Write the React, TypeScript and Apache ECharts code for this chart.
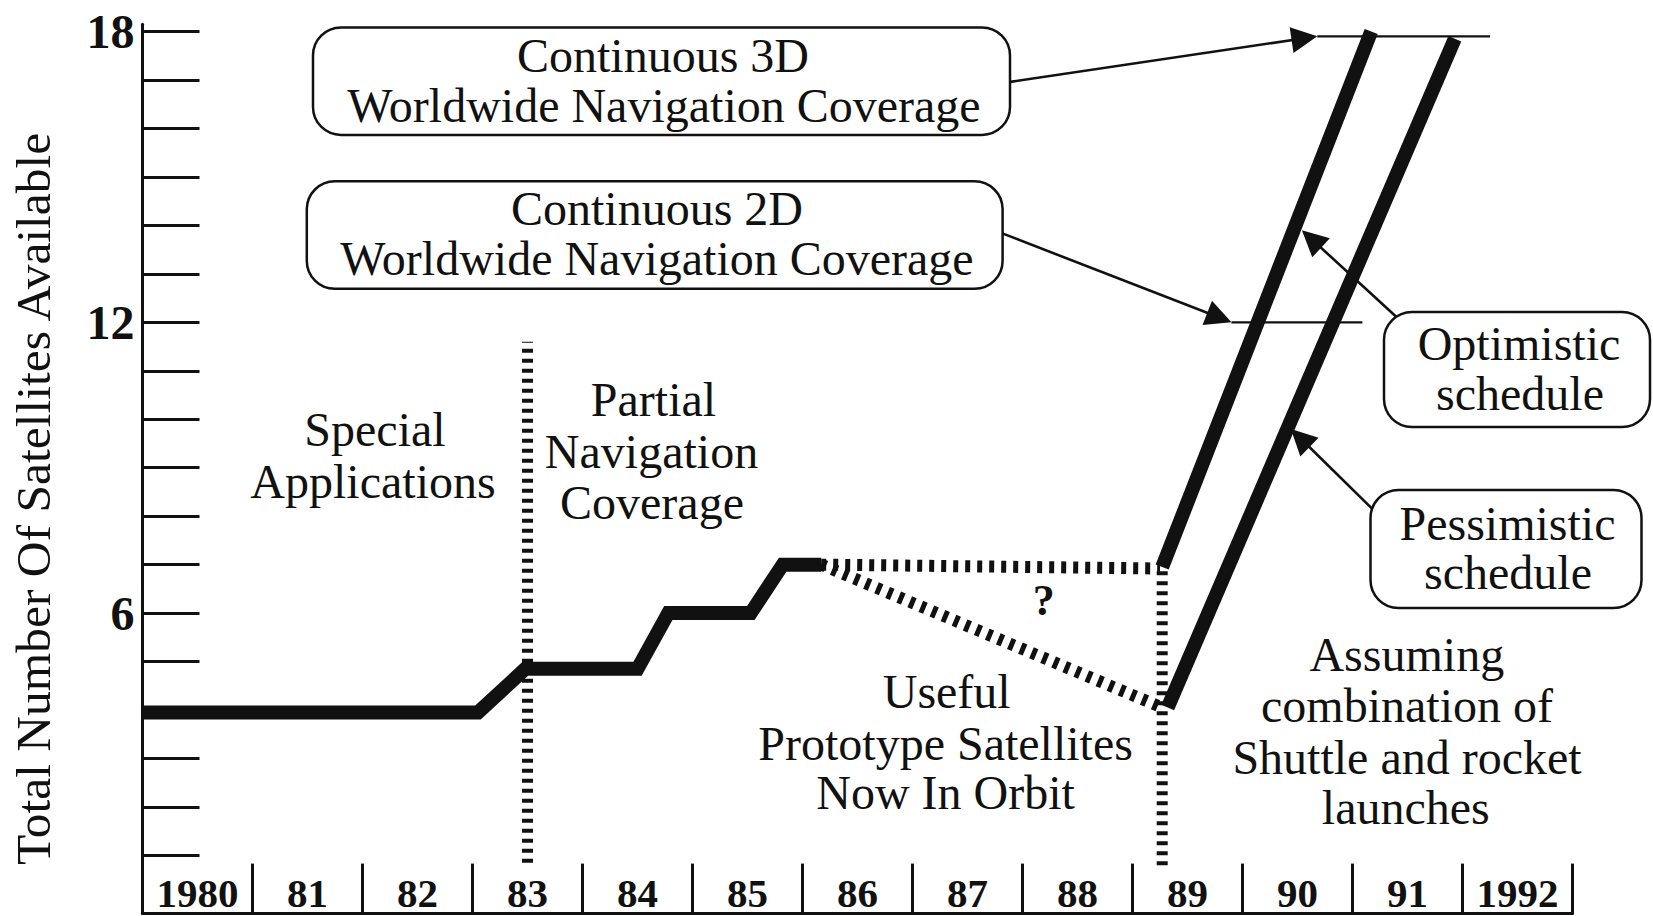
import React, { useEffect, useRef } from 'react';
import * as echarts from 'echarts';

// ---------- data ----------
const yearLabels = ['1980', '81', '82', '83', '84', '85', '86', '87', '88', '89', '90', '91', '1992'];
const yTickValues = [1, 2, 3, 4, 5, 6, 7, 8, 9, 10, 11, 12, 13, 14, 15, 16, 17, 18];
const yLabelValues = [6, 12, 18];

// satellites actually in orbit (stepped history)
const orbitYears = [1980, 1983.05, 1983.48, 1984.5, 1984.78, 1985.53, 1985.82, 1986.17];
const orbitCounts = [3.95, 3.95, 4.85, 4.85, 6, 6, 7, 7];

// uncertain period (hatched)
const upperUncertainYears = [1986.17, 1989.25];
const upperUncertainCounts = [7, 6.92];
const lowerUncertainYears = [1986.17, 1989.25];
const lowerUncertainCounts = [7, 4.07];

// launch schedules
const optimisticYears = [1989.27, 1991.17];
const optimisticCounts = [6.95, 18];
const pessimisticYears = [1989.32, 1991.93];
const pessimisticCounts = [4.05, 17.85];

// phase boundaries (dotted verticals)
const boundaryYears = [1983.5, 1989.27];
const boundaryFrom = [0.85, 0.8];
const boundaryTo = [11.6, 6.95];

// coverage thresholds
const coverage3DYears = [1990.68, 1992.25];
const coverage3DLevel = 17.9;
const coverage2DYears = [1989.9, 1991.09];
const coverage2DLevel = 12;

// annotation arrows: [startYear, startCount, tipYear, tipCount]
const arrowStartYears = [1987.89, 1987.81, 1991.4, 1991.18];
const arrowStartCounts = [16.96, 13.84, 12.11, 8.15];
const arrowTipYears = [1990.68, 1989.9, 1990.54, 1990.44];
const arrowTipCounts = [17.9, 12, 13.9, 9.8];

// ---------- layout ----------
const W = 1653;
const H = 916;
const G_LEFT = 142.5;
const G_RIGHT = 80.5;
const G_TOP = 24.2;
const G_BOTTOM = 2.4;
const X_MIN = 1980;
const X_MAX = 1993;
const Y_MIN = -0.2;
const Y_MAX = 18.15;
const PX_PER_YEAR = (W - G_LEFT - G_RIGHT) / (X_MAX - X_MIN);
const PX_PER_UNIT = (H - G_TOP - G_BOTTOM) / (Y_MAX - Y_MIN);
const ARROW_LEN = 26;

const FONT = '"Liberation Serif", "Times New Roman", Times, serif';
const INK = '#111';

function pairs(xs: number[], ys: number[]) {
  return xs.map((x, i) => [x, ys[i]]);
}

function arrowData() {
  return arrowStartYears.map((sx, i) => {
    const sy = arrowStartCounts[i];
    const tx = arrowTipYears[i];
    const ty = arrowTipCounts[i];
    const dxp = (tx - sx) * PX_PER_YEAR;
    const dyp = (ty - sy) * PX_PER_UNIT;
    const len = Math.sqrt(dxp * dxp + dyp * dyp);
    const back = ARROW_LEN / 2 / len;
    return {
      coords: [
        [sx, sy],
        [tx - (tx - sx) * back, ty - (ty - sy) * back],
      ],
    };
  });
}

function txt(text: string, x: number, y: number, size = 48, weight = 'normal') {
  return {
    type: 'text',
    x,
    y,
    z: 100,
    silent: true,
    style: {
      text,
      font: `${weight} ${size}px ${FONT}`,
      fill: INK,
      align: 'center',
      verticalAlign: 'middle',
      textAlign: 'center',
      textVerticalAlign: 'middle',
    },
  };
}

function box(x: number, y: number, w: number, h: number) {
  return {
    type: 'rect',
    z: 90,
    silent: true,
    shape: { x, y, width: w, height: h, r: 28 },
    style: { fill: '#fff', stroke: INK, lineWidth: 2.5 },
  };
}

function lineSeries(xs: number[], ys: number[], width: number, type: any = 'solid', z = 3) {
  return {
    type: 'line',
    xAxisIndex: 1,
    yAxisIndex: 0,
    data: pairs(xs, ys),
    showSymbol: false,
    symbol: 'none',
    silent: true,
    clip: false,
    z,
    lineStyle: { color: INK, width, type, join: 'miter', cap: 'butt' },
  };
}

function buildOption() {
  const series: any[] = [];
  boundaryYears.forEach((bx, i) => {
    series.push(lineSeries([bx, bx], [boundaryFrom[i], boundaryTo[i]], 11, [4, 6], 2));
  });
  series.push(lineSeries(upperUncertainYears, upperUncertainCounts, 12, [5, 7], 3));
  series.push(lineSeries(lowerUncertainYears, lowerUncertainCounts, 12, [5, 7], 3));
  series.push(lineSeries(orbitYears, orbitCounts, 14, 'solid', 4));
  series.push(lineSeries(optimisticYears, optimisticCounts, 14, 'solid', 4));
  series.push(lineSeries(pessimisticYears, pessimisticCounts, 14, 'solid', 4));
  series.push(lineSeries(coverage3DYears, [coverage3DLevel, coverage3DLevel], 2.2, 'solid', 3));
  series.push(lineSeries(coverage2DYears, [coverage2DLevel, coverage2DLevel], 2.2, 'solid', 3));
  series.push({
    type: 'lines',
    coordinateSystem: 'cartesian2d',
    xAxisIndex: 1,
    yAxisIndex: 0,
    silent: true,
    z: 5,
    symbol: ['none', 'triangle'],
    symbolSize: [15, ARROW_LEN],
    lineStyle: { color: INK, width: 2.6, opacity: 1, curveness: 0 },
    itemStyle: { color: INK },
    data: arrowData(),
  });

  return {
    animation: false,
    backgroundColor: '#fff',
    grid: {
      left: G_LEFT,
      right: G_RIGHT,
      top: G_TOP,
      bottom: G_BOTTOM,
      containLabel: false,
      outerBoundsMode: 'none',
    },
    xAxis: [
      {
        type: 'category',
        data: yearLabels,
        boundaryGap: true,
        position: 'bottom',
        axisLine: { show: true, onZero: false, lineStyle: { color: INK, width: 3 } },
        axisTick: {
          show: true,
          inside: true,
          length: 50,
          interval: 0,
          alignWithLabel: false,
          lineStyle: { color: INK, width: 3 },
        },
        axisLabel: {
          show: true,
          inside: true,
          interval: 0,
          margin: 0,
          fontSize: 41,
          fontWeight: 'bold',
          fontFamily: FONT,
          color: INK,
        },
        splitLine: { show: false },
      },
      {
        type: 'value',
        min: X_MIN,
        max: X_MAX,
        show: false,
        splitLine: { show: false },
      },
    ],
    yAxis: {
      type: 'value',
      min: Y_MIN,
      max: Y_MAX,
      splitLine: { show: false },
      axisLine: { show: true, onZero: false, lineStyle: { color: INK, width: 3 } },
      axisTick: {
        show: true,
        inside: true,
        length: 57,
        customValues: yTickValues,
        lineStyle: { color: INK, width: 3 },
      },
      axisLabel: {
        show: true,
        customValues: yLabelValues,
        margin: 8,
        fontSize: 48,
        fontWeight: 'bold',
        fontFamily: FONT,
        color: INK,
      },
      name: 'Total Number Of Satellites Available',
      nameLocation: 'middle',
      nameRotate: 90,
      nameGap: 84,
      nameTextStyle: { fontSize: 49.5, fontFamily: FONT, color: INK, padding: [0, 60, 0, 0] },
    },
    graphic: [
      box(313, 27.4, 697, 107.5),
      txt('Continuous 3D', 663, 55),
      txt('Worldwide Navigation Coverage', 664, 105),
      box(306.8, 181.3, 695.8, 107.5),
      txt('Continuous 2D', 657, 208),
      txt('Worldwide Navigation Coverage', 657, 258),
      box(1384, 312, 266, 115),
      txt('Optimistic', 1519, 343),
      txt('schedule', 1520, 393),
      box(1370.5, 490, 271, 118),
      txt('Pessimistic', 1507.5, 523),
      txt('schedule', 1508, 572.5),
      txt('Special', 375, 429),
      txt('Applications', 373, 481),
      txt('Partial', 653.5, 399.5),
      txt('Navigation', 651.5, 451),
      txt('Coverage', 652, 502),
      txt('?', 1043.7, 600, 44, 'bold'),
      txt('Useful', 946.7, 691.6),
      txt('Prototype Satellites', 945.6, 743),
      txt('Now In Orbit', 945.6, 792),
      txt('Assuming', 1406.8, 654.7),
      txt('combination of', 1407, 705),
      txt('Shuttle and rocket', 1407, 757),
      txt('launches', 1405.8, 807.5),
    ],
    series,
  };
}

export default function App() {
  const ref = useRef<HTMLDivElement>(null);
  useEffect(() => {
    if (!ref.current) return;
    const chart = echarts.init(ref.current, null, { renderer: 'svg' });
    chart.setOption(buildOption() as any);
    return () => {
      chart.dispose();
    };
  }, []);
  return (
    <div
      ref={ref}
      style={{ position: 'fixed', left: 0, top: 0, width: W, height: H, background: '#fff' }}
    />
  );
}
